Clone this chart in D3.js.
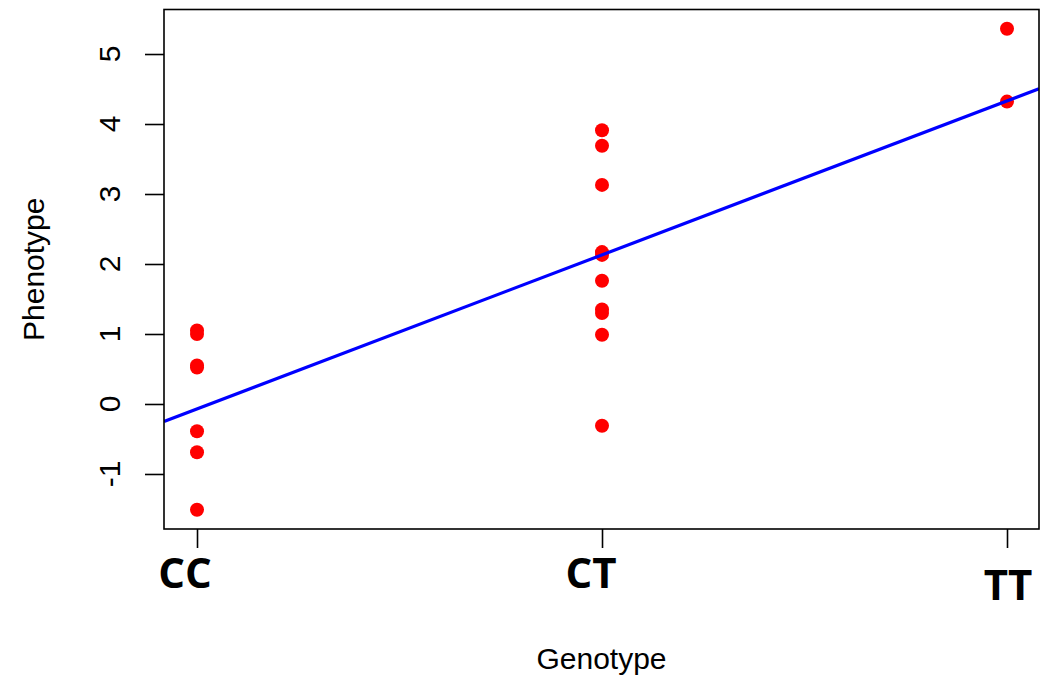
<!DOCTYPE html>
<html>
<head>
<meta charset="utf-8">
<script src="https://cdn.jsdelivr.net/npm/d3@7"></script>
<style>
  html, body { margin: 0; padding: 0; background: #fff; }
  svg { display: block; }
</style>
</head>
<body>
<svg id="chart" width="1050" height="678"></svg>
<script>
// Genotype groups, coded 0 / 1 / 2 along the x axis
const genotypes = ["CC", "CT", "TT"];

// Phenotype observations for each genotype group
const phenoCC = [1.05, 1.00, 0.55, 0.52, -0.39, -0.69, -1.51];
const phenoCT = [3.91, 3.69, 3.13, 2.17, 2.13, 1.76, 1.35, 1.30, 0.99, -0.31];
const phenoTT = [5.36, 4.32];

// Y tick values
const yTicks = [-1, 0, 1, 2, 3, 4, 5];

// Fitted additive model: phenotype = intercept + slope * genotype code
const fitIntercept = -0.07;
const fitSlope = 2.2;

const groups = [phenoCC, phenoCT, phenoTT];
const points = groups.flatMap((vals, i) => vals.map(v => ({ g: i, v })));

const svg = d3.select("#chart");
const box = { left: 164, right: 1039, top: 9.5, bottom: 529 };

const x = d3.scaleLinear().domain([-0.0815, 2.079]).range([box.left, box.right]);
const y = d3.scaleLinear().domain([-1.786, 5.636]).range([box.bottom, box.top]);

const clipId = "plot-clip";
svg.append("defs").append("clipPath").attr("id", clipId)
  .append("rect")
  .attr("x", box.left).attr("y", box.top)
  .attr("width", box.right - box.left).attr("height", box.bottom - box.top);

// Points
svg.append("g")
  .selectAll("circle")
  .data(points)
  .join("circle")
  .attr("cx", d => x(d.g))
  .attr("cy", d => y(d.v))
  .attr("r", 7)
  .attr("fill", "#ff0000");

// Regression line across the full plotting region
const [x0, x1] = x.domain();
svg.append("line")
  .attr("clip-path", `url(#${clipId})`)
  .attr("x1", x(x0)).attr("y1", y(fitIntercept + fitSlope * x0))
  .attr("x2", x(x1)).attr("y2", y(fitIntercept + fitSlope * x1))
  .attr("stroke", "#0000ff")
  .attr("stroke-width", 3.2);

// Frame
svg.append("rect")
  .attr("x", box.left).attr("y", box.top)
  .attr("width", box.right - box.left).attr("height", box.bottom - box.top)
  .attr("fill", "none")
  .attr("stroke", "#000")
  .attr("stroke-width", 1.6);

// Left axis: ticks only, labels drawn rotated
const yAxis = d3.axisLeft(y).tickValues(yTicks).tickSize(19).tickFormat("");
const gy = svg.append("g").attr("transform", `translate(${box.left},0)`).call(yAxis);
gy.select(".domain").remove();
gy.selectAll(".tick line").attr("stroke", "#000").attr("stroke-width", 1.6);

svg.append("g")
  .selectAll("text")
  .data(yTicks)
  .join("text")
  .attr("transform", d => `translate(120,${y(d)}) rotate(-90)`)
  .attr("text-anchor", "middle")
  .attr("font-family", "'Liberation Sans', Arial, sans-serif")
  .attr("font-size", 30)
  .attr("fill", "#000")
  .text(d => d);

// Bottom axis: ticks only
const xAxis = d3.axisBottom(x).tickValues(d3.range(genotypes.length)).tickSize(19).tickFormat("");
const gx = svg.append("g").attr("transform", `translate(0,${box.bottom})`).call(xAxis);
gx.select(".domain").remove();
gx.selectAll(".tick line").attr("stroke", "#000").attr("stroke-width", 1.6);

// Genotype labels (bold), individually nudged as in the annotated figure
const labelNudge = [{ dx: -12, base: 588 }, { dx: -11, base: 588 }, { dx: 1, base: 600 }];
svg.append("g")
  .selectAll("text")
  .data(genotypes)
  .join("text")
  .attr("x", (d, i) => x(i) + labelNudge[i].dx)
  .attr("y", (d, i) => labelNudge[i].base)
  .attr("text-anchor", "middle")
  .attr("font-family", "'Open Sans', 'Noto Sans', sans-serif")
  .attr("font-weight", 700)
  .attr("font-size", 42)
  .attr("fill", "#000")
  .text(d => d);

// Axis titles
svg.append("text")
  .attr("x", (box.left + box.right) / 2)
  .attr("y", 669)
  .attr("text-anchor", "middle")
  .attr("font-family", "'Liberation Sans', Arial, sans-serif")
  .attr("font-size", 30)
  .attr("fill", "#000")
  .text("Genotype");

svg.append("text")
  .attr("transform", `translate(44,${(box.top + box.bottom) / 2}) rotate(-90)`)
  .attr("text-anchor", "middle")
  .attr("font-family", "'Liberation Sans', Arial, sans-serif")
  .attr("font-size", 30)
  .attr("fill", "#000")
  .text("Phenotype");
</script>
</body>
</html>
